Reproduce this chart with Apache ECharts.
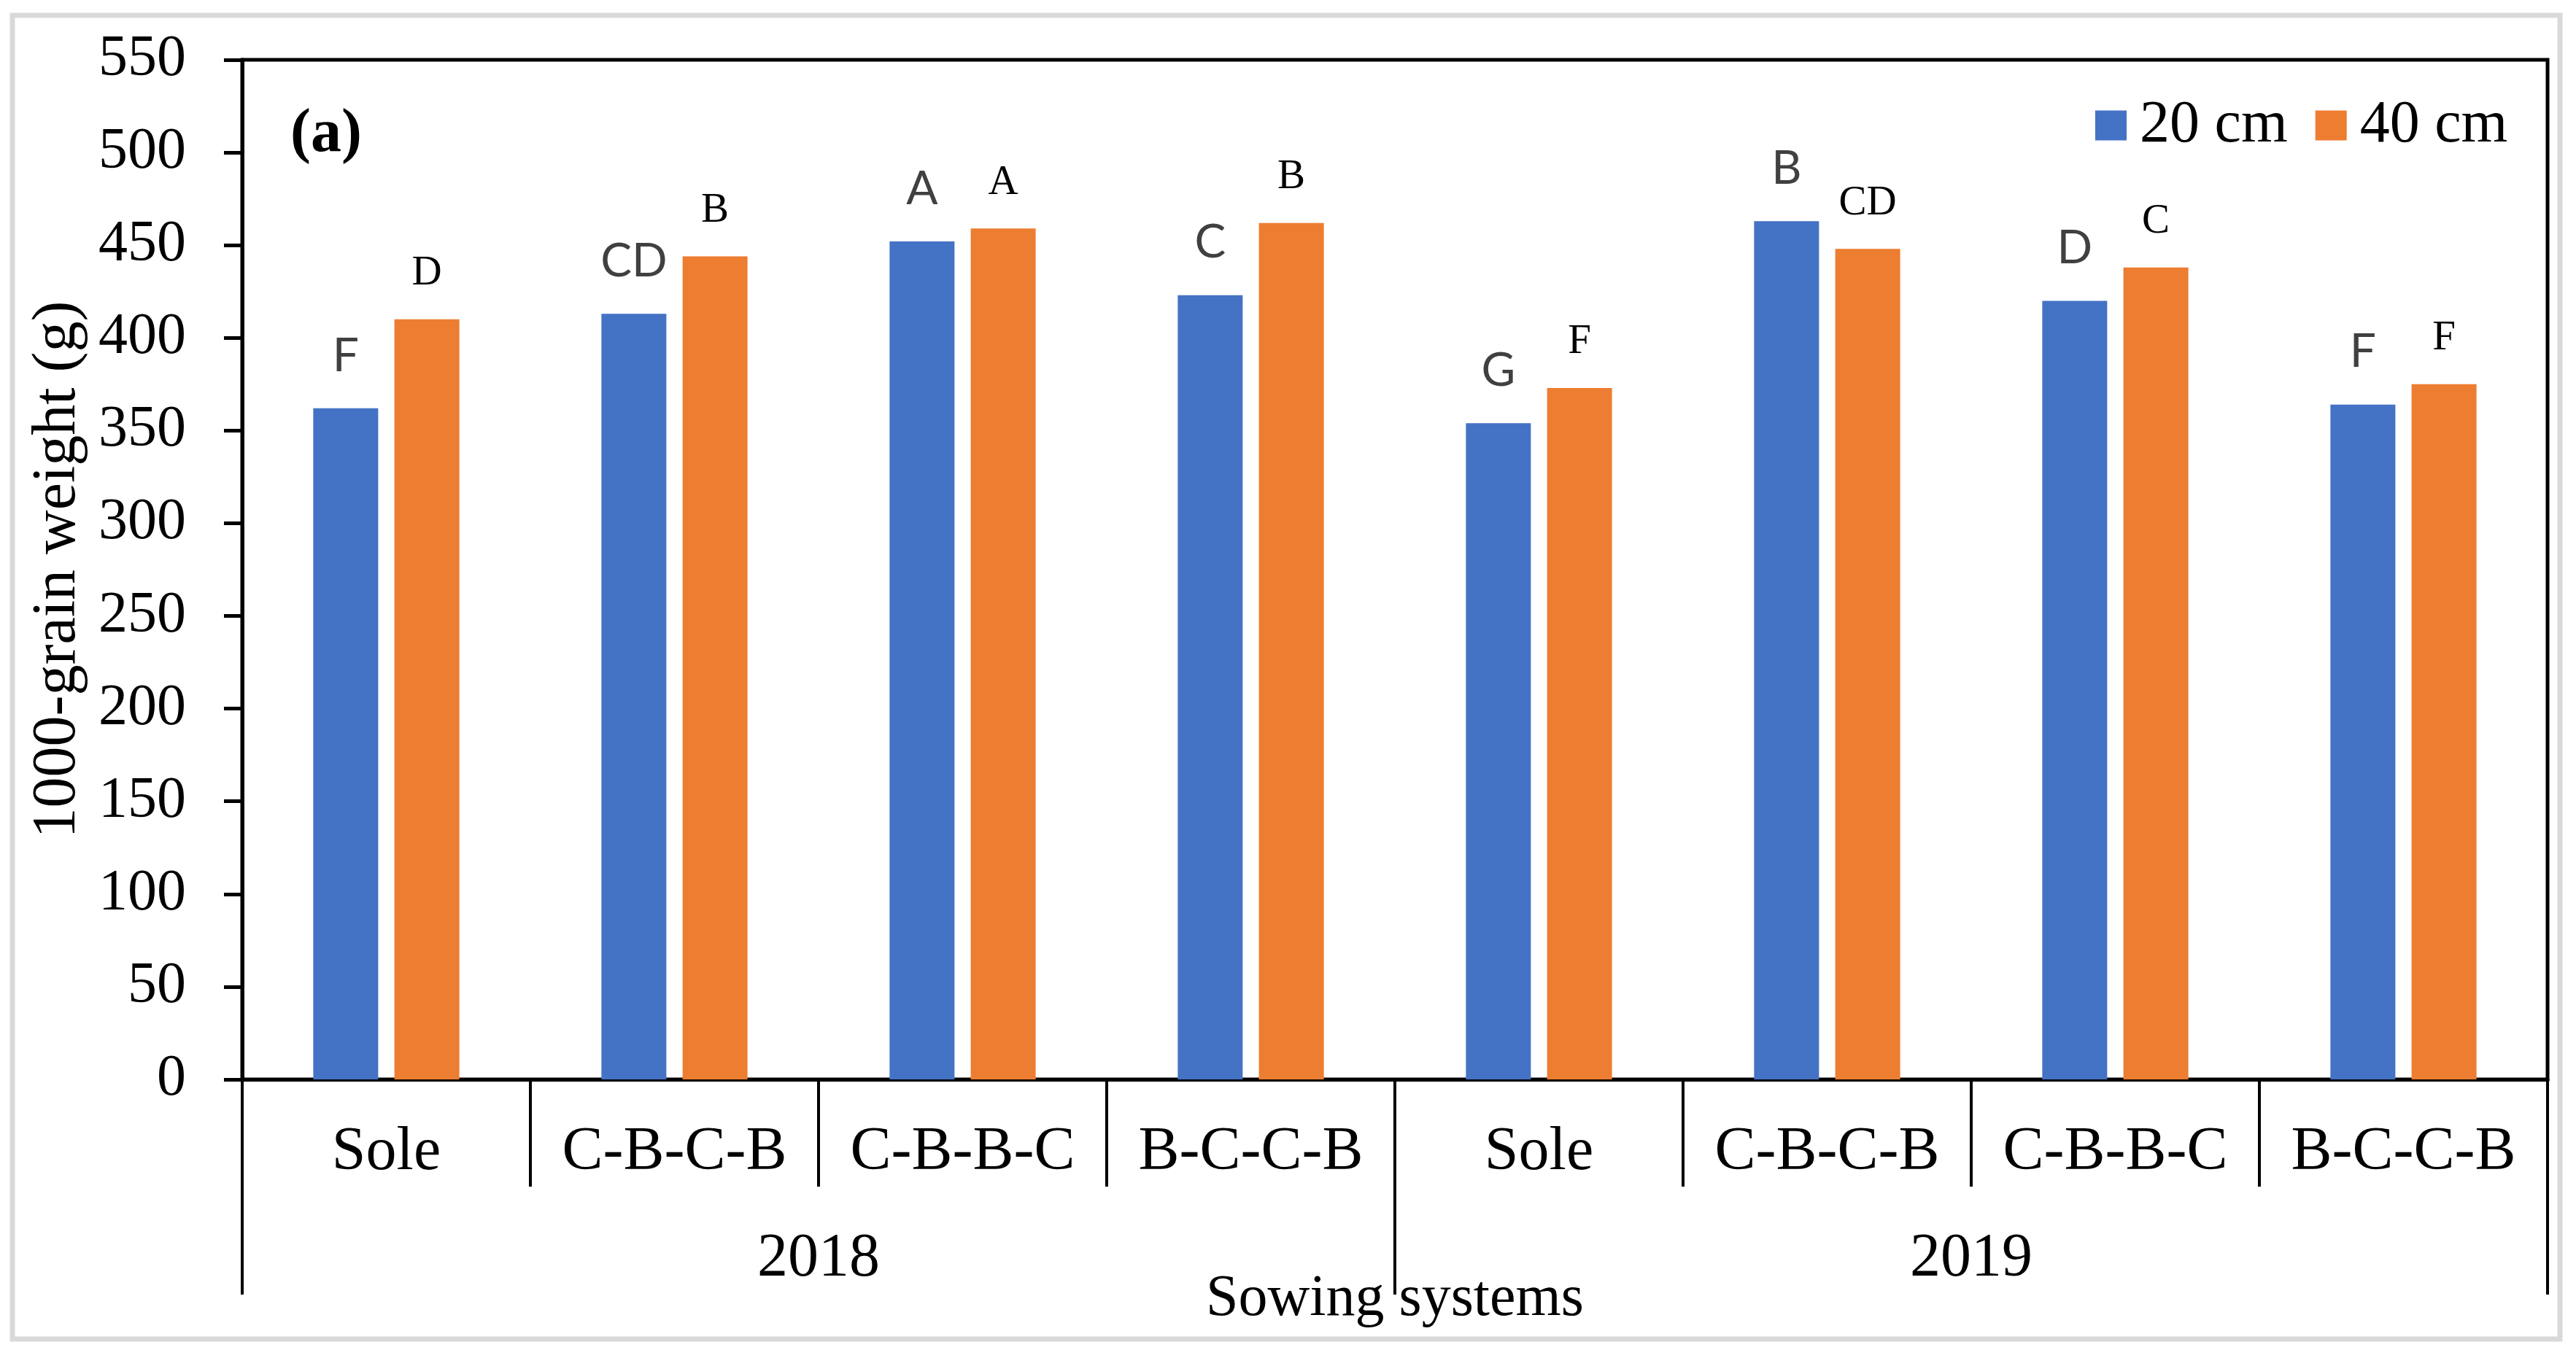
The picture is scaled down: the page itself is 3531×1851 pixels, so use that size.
<!DOCTYPE html>
<html>
<head>
<meta charset="utf-8">
<script src="https://cdn.jsdelivr.net/npm/echarts@6/dist/echarts.min.js"></script>
<style>
  html, body { margin: 0; padding: 0; background: #ffffff; }
  #chart { width: 3531px; height: 1851px; }
</style>
</head>
<body>
<div id="chart"></div>
<script>
// ---- data ----
const categories = ['Sole', 'C-B-C-B', 'C-B-B-C', 'B-C-C-B', 'Sole', 'C-B-C-B', 'C-B-B-C', 'B-C-C-B'];
const years = ['2018', '2019'];
const seriesNames = ['20 cm', '40 cm'];
const values20 = [362, 413, 452, 423, 354, 463, 420, 364];
const values40 = [410, 444, 459, 462, 373, 448, 438, 375];
const letters20 = ['F', 'CD', 'A', 'C', 'G', 'B', 'D', 'F'];
const letters40 = ['D', 'B', 'A', 'B', 'F', 'CD', 'C', 'F'];
const yTicks = { min: 0, max: 550, interval: 50 };

const serif = "'Liberation Serif', 'Times New Roman', serif";
const sans = "Lato, 'Noto Sans', sans-serif";

const chart = echarts.init(document.getElementById('chart'), null, { renderer: 'canvas' });

const option = {
  backgroundColor: '#ffffff',
  animation: false,
  title: {
    text: '(a)',
    left: 393,
    top: 138,
    textStyle: { fontFamily: serif, fontWeight: 'bold', fontSize: 84, color: '#000' }
  },
  legend: {
    data: seriesNames,
    left: 2872,
    top: 131,
    padding: 0,
    itemWidth: 43,
    itemHeight: 41,
    itemGap: 38,
    icon: 'rect',
    textStyle: { fontFamily: serif, fontSize: 82, color: '#000', padding: [0, 0, 0, 13] }
  },
  grid: {
    left: 332,
    right: 39,
    top: 82,
    bottom: 371,
    show: true,
    borderColor: '#000',
    borderWidth: 5,
    backgroundColor: 'transparent',
    containLabel: false,
    outerBoundsMode: 'none'
  },
  xAxis: [
    {
      type: 'category',
      data: categories,
      position: 'bottom',
      axisLine: { show: true, lineStyle: { color: '#000', width: 5 } },
      axisTick: { show: true, alignWithLabel: false, interval: 0, length: 147, lineStyle: { color: '#000', width: 4 } },
      axisLabel: { interval: 0, margin: 59, fontFamily: serif, fontSize: 84, color: '#000' },
      splitLine: { show: false }
    },
    {
      type: 'category',
      data: years,
      position: 'bottom',
      axisLine: { show: false },
      axisTick: { show: true, alignWithLabel: false, interval: 0, length: 295, lineStyle: { color: '#000', width: 4 } },
      axisLabel: { interval: 0, margin: 205, fontFamily: serif, fontSize: 84, color: '#000' },
      splitLine: { show: false },
      name: 'Sowing systems',
      nameLocation: 'middle',
      nameGap: 262,
      nameMoveOverlap: false,
      nameTextStyle: { fontFamily: serif, fontSize: 80, color: '#000' }
    }
  ],
  yAxis: {
    type: 'value',
    min: yTicks.min,
    max: yTicks.max,
    interval: yTicks.interval,
    name: '1000-grain weight (g)',
    nameLocation: 'middle',
    nameRotate: 90,
    nameGap: 210,
    nameMoveOverlap: false,
    nameTextStyle: { fontFamily: serif, fontSize: 84, color: '#000' },
    axisLine: { show: true, lineStyle: { color: '#000', width: 5 } },
    axisTick: { show: true, inside: false, length: 25, lineStyle: { color: '#000', width: 5 } },
    axisLabel: { margin: 77, fontFamily: serif, fontSize: 80, color: '#000' },
    splitLine: { show: false }
  },
  graphic: [
    {
      type: 'rect',
      silent: true,
      z: -1,
      shape: { x: 17, y: 21, width: 3492, height: 1815 },
      style: { fill: null, stroke: '#d9d9d9', lineWidth: 7 }
    }
  ],
  series: [
    {
      name: seriesNames[0],
      type: 'bar',
      xAxisIndex: 0,
      data: values20,
      barWidth: 89,
      barGap: '25%',
      itemStyle: { color: '#4472C4' },
      emphasis: { disabled: true },
      label: {
        show: true,
        position: 'top',
        distance: 40,
        formatter: (p) => letters20[p.dataIndex],
        fontFamily: sans,
        fontSize: 64,
        color: '#404040'
      }
    },
    {
      name: seriesNames[1],
      type: 'bar',
      xAxisIndex: 0,
      data: values40,
      barWidth: 89,
      barGap: '25%',
      itemStyle: { color: '#ED7D31' },
      emphasis: { disabled: true },
      label: {
        show: true,
        position: 'top',
        distance: 34,
        formatter: (p) => letters40[p.dataIndex],
        fontFamily: serif,
        fontSize: 57,
        color: '#000'
      }
    }
  ]
};

chart.setOption(option);
</script>
</body>
</html>
